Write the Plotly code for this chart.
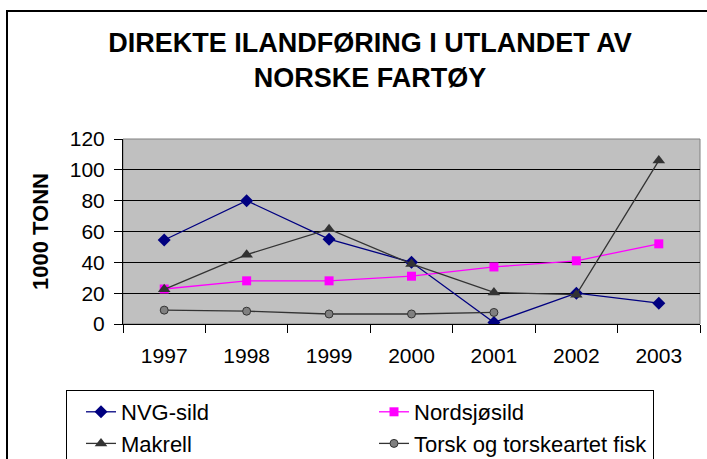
import plotly.graph_objects as go

# data (1000 tonn)
years = ['1997', '1998', '1999', '2000', '2001', '2002', '2003']
nvg_sild = [54.5, 80, 55, 40, 1, 20, 13.5]
nordsjosild = [22.7, 28, 28, 31, 37, 41, 52]
makrell = [22.5, 45, 61.5, 39, 20.5, 19, 106]
torsk = [9, 8.3, 6.5, 6.5, 7.5, None, None]

FONT = 'Arial, Liberation Sans, sans-serif'

fig = go.Figure()

fig.add_trace(go.Scatter(
    x=years, y=nvg_sild, name='NVG-sild', mode='lines+markers',
    line=dict(color='#000080', width=1.3),
    marker=dict(symbol='diamond', size=10, color='#000080'),
))
fig.add_trace(go.Scatter(
    x=years, y=nordsjosild, name='Nordsjøsild', mode='lines+markers',
    line=dict(color='#FF00FF', width=1.3),
    marker=dict(symbol='square', size=9, color='#FF00FF'),
))
fig.add_trace(go.Scatter(
    x=years, y=makrell, name='Makrell', mode='lines+markers',
    line=dict(color='#333333', width=1.3),
    marker=dict(symbol='triangle-up', size=11, color='#333333'),
))
fig.add_trace(go.Scatter(
    x=years, y=torsk, name='Torsk og torskeartet fisk', mode='lines+markers',
    line=dict(color='#333333', width=1.3),
    marker=dict(symbol='circle', size=8, color='#808080',
                line=dict(color='#333333', width=1)),
))

# ytre ramme rundt hele diagrammet
fig.add_shape(type='rect', xref='paper', yref='paper',
              x0=(7 - 123) / 577, x1=(720 - 123) / 577,
              y0=(324 - 480) / 185, y1=(324 - 11) / 185,
              line=dict(color='black', width=2), fillcolor='rgba(0,0,0,0)',
              layer='below')

fig.update_layout(
    width=707, height=459,
    margin=dict(l=123, r=7, t=139, b=135, autoexpand=False),
    paper_bgcolor='white',
    plot_bgcolor='#C0C0C0',
    font=dict(family=FONT, size=21, color='black'),
    title=dict(
        text='<b>DIREKTE ILANDFØRING I UTLANDET AV<br>NORSKE FARTØY</b>',
        x=370 / 707, xanchor='center', y=1 - 52 / 459, yanchor='top',
        font=dict(family=FONT, size=27, color='black'),
    ),
    showlegend=True,
    legend=dict(
        orientation='h', xref='paper', yref='paper',
        x=(66 - 123) / 577, xanchor='left',
        y=(324 - 390) / 185, yanchor='top',
        entrywidth=234, indentation=14,
        bordercolor='black', borderwidth=1, bgcolor='white',
        font=dict(family=FONT, size=22, color='black'),
        traceorder='normal',
    ),
    xaxis=dict(
        type='category', range=[-0.5, 6.5],
        showgrid=False, showline=True, linecolor='black', linewidth=1,
        ticks='outside', tickson='boundaries', ticklen=8, tickcolor='black',
        tickfont=dict(size=21), ticklabelstandoff=13, mirror=False,
    ),
    yaxis=dict(
        range=[0, 120], dtick=20, tick0=0,
        showgrid=True, gridcolor='black', gridwidth=1,
        showline=True, linecolor='black', linewidth=1,
        ticks='outside', ticklen=8, tickcolor='black',
        tickfont=dict(size=21), ticklabelstandoff=5, zeroline=False,
        title=dict(text='<b>1000 TONN</b>', standoff=15,
                   font=dict(family=FONT, size=22)),
    ),
)

# grå kant rundt plottområdet (topp og høyre)
fig.add_shape(type='rect', xref='paper', yref='paper', x0=0, x1=1, y0=0, y1=1,
              line=dict(color='#808080', width=1), layer='below')

fig.write_html('out.html', config={'displayModeBar': False},
               post_script="document.body.style.margin='0';")
